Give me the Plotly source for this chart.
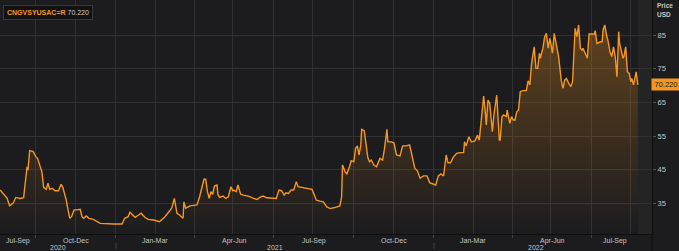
import pandas as pd
import plotly.graph_objects as go

BASE_DATE = "2021-01-01"
DAY_OFFSETS = [
    -133, -127, -125, -122, -118, -115, -110, -106, -103, -102, -101, -99, -95, -92, -90,
    -87, -85, -83, -80, -78, -76, -73, -70, -66, -63, -61, -59, -57, -55, -53,
    -51, -48, -45, -41, -39, -37, -34, -31, -26, -22, -18, -3, 7, 10, 14,
    16, 19, 22, 26, 29, 33, 37, 43, 50, 56, 60, 64, 67, 69, 70,
    73, 77, 78, 80, 85, 93, 96, 98, 101, 103, 105, 107, 109, 111, 113,
    116, 117, 119, 123, 126, 129, 132, 134, 135, 138, 140, 143, 146, 152, 158,
    162, 165, 169, 173, 179, 184, 187, 190, 193, 195, 198, 201, 204, 207, 209,
    213, 219, 225, 227, 230, 234, 238, 242, 246, 251, 257, 259, 260, 263, 265,
    268, 270, 273, 275, 277, 279, 281, 282, 285, 287, 289, 291, 293, 296, 299,
    303, 306, 308, 311, 312, 316, 319, 322, 326, 329, 333, 337, 339, 343, 346,
    349, 353, 357, 360, 364, 367, 370, 373, 376, 379, 381, 384, 387, 391, 395,
    399, 400, 402, 405, 408, 412, 415, 417, 420, 422, 424, 425, 427, 429, 432,
    434, 437, 440, 441, 443, 445, 448, 449, 452, 454, 456, 458, 460, 462, 464,
    467, 471, 473, 475, 477, 480, 482, 484, 486, 487, 490, 492, 494, 496, 498,
    501, 503, 506, 508, 511, 513, 515, 517, 520, 522, 524, 527, 529, 531, 533,
    535, 536, 538, 541, 543, 546, 549, 550, 552, 556, 558, 559, 561, 563, 565,
    567, 569, 571, 573, 575, 577, 578, 582, 583, 585, 587, 589, 591, 592, 594,
    596, 597, 599,
]
PRICES = [
    39.0, 37.0, 36.6, 34.3, 35.1, 36.8, 36.5, 36.7, 44.4, 45.9, 44.9, 50.7, 50.4, 48.9, 48.4,
    45.9, 44.4, 39.8, 39.2, 41.0, 39.2, 39.5, 38.8, 38.8, 40.7, 39.8, 38.0, 36.0, 33.1, 30.6,
    31.1, 33.1, 33.1, 33.3, 31.1, 30.6, 31.3, 30.6, 30.3, 29.6, 29.1, 28.9, 28.9, 30.6, 31.1,
    32.4, 31.6, 30.9, 31.6, 32.1, 30.9, 30.3, 30.1, 29.6, 31.0, 32.3, 33.6, 36.5, 34.0, 32.1,
    31.6, 30.6, 35.5, 33.6, 34.3, 34.6, 37.0, 38.8, 42.2, 42.2, 38.5, 36.5, 38.5, 37.7, 40.2,
    40.5, 37.7, 36.8, 37.2, 36.5, 37.0, 40.0, 38.8, 39.0, 38.5, 40.5, 37.8, 37.5, 37.2, 36.5,
    36.2, 36.8, 37.2, 36.7, 36.5, 36.5, 39.0, 38.8, 37.5, 38.2, 38.0, 39.0, 39.0, 41.5, 40.0,
    39.8, 39.5, 39.2, 38.0, 36.0, 35.7, 35.5, 34.0, 33.5, 33.8, 34.3, 37.0, 46.4, 44.4, 43.8,
    45.9, 47.7, 47.4, 51.4, 52.1, 49.4, 52.4, 57.0, 56.6, 51.9, 48.7, 47.4, 47.9, 46.4, 45.9,
    48.4, 47.9, 50.9, 57.0, 53.3, 53.3, 53.0, 49.4, 49.1, 52.1, 52.1, 52.4, 50.1, 45.4, 44.7,
    42.5, 43.2, 43.2, 41.2, 40.8, 40.5, 43.2, 43.8, 43.2, 49.4, 47.1, 47.1, 48.7, 49.9, 50.1,
    50.1, 53.3, 52.1, 54.8, 53.3, 53.6, 55.3, 53.8, 62.7, 66.9, 61.8, 58.3, 65.7, 64.7, 56.3,
    61.8, 67.2, 53.8, 53.8, 60.8, 61.3, 60.8, 62.7, 58.8, 60.8, 59.8, 59.8, 62.2, 62.7, 68.2,
    68.5, 68.5, 71.4, 70.2, 76.6, 81.5, 75.1, 75.1, 79.6, 78.1, 81.1, 84.5, 85.5, 81.1, 84.0,
    79.6, 85.5, 81.5, 78.6, 71.6, 69.2, 71.6, 72.1, 70.5, 69.7, 71.1, 87.0, 84.5, 88.0, 81.1,
    80.5, 81.1, 80.0, 78.1, 85.3, 85.3, 85.3, 86.3, 82.5, 83.0, 83.0, 86.5, 88.0, 85.0, 83.0,
    80.0, 78.6, 81.5, 78.6, 72.6, 86.0, 82.5, 78.1, 78.6, 81.5, 74.1, 73.6, 71.1, 72.1, 70.2,
    73.6, 74.1, 70.22,
]

TICKER = "CNGVSYUSAC=R"
LAST_LABEL = "70.220"
Y_TICKS = [35, 45, 55, 65, 75, 85]
QUARTER_STARTS = ["2020-10-01", "2021-01-01", "2021-04-01", "2021-07-01", "2021-10-01",
                  "2022-01-01", "2022-04-01", "2022-07-01"]
MID_QUARTERS = ["2020-11-15", "2021-02-15", "2021-05-15", "2021-08-15", "2021-11-15",
                "2022-02-15", "2022-05-15", "2022-08-15"]
QUARTER_LABELS = ["Jul-Sep", "Oct-Dec", "Jan-Mar", "Apr-Jun", "Jul-Sep", "Oct-Dec",
                  "Jan-Mar", "Apr-Jun", "Jul-Sep"]
YEAR_STARTS = ["2021-01-01", "2022-01-01"]
YEAR_LABELS = ["2020", "2021", "2022"]

X_MIN = pd.Timestamp("2020-08-20 22:00")
X_MAX = pd.Timestamp("2022-09-08 05:00")
Y_MIN, Y_MAX = 25.95, 95.4

dates = pd.Timestamp(BASE_DATE) + pd.to_timedelta(DAY_OFFSETS, unit="D")
last_date = dates[-1]

ORANGE = "#f7961f"
BG = "#1c1c1e"
GRID = "#313133"
TXT = "#c4c4c4"
FONT = "Liberation Sans, Arial, sans-serif"

fig = go.Figure()
fig.add_trace(go.Scatter(
    x=dates, y=PRICES, mode="lines",
    line=dict(color=ORANGE, width=1.4),
    fill="tozeroy",
    fillgradient=dict(type="vertical",
                      colorscale=[[0, "rgba(247,150,31,0.0)"], [1, "rgba(247,150,31,0.32)"]],
                      start=Y_MIN, stop=90),
    hoverinfo="skip", showlegend=False,
))

shapes = []
shapes.append(dict(type="rect", xref="x", yref="paper", x0=last_date, x1=X_MAX, y0=0, y1=1,
                   fillcolor="rgba(255,255,255,0.035)", line=dict(width=0), layer="below"))
for ys in YEAR_STARTS:
    shapes.append(dict(type="line", xref="x", yref="paper", x0=ys, x1=ys,
                       y0=-9 / 234, y1=-15 / 234, line=dict(color="#444", width=1)))
shapes.append(dict(type="line", xref="paper", yref="paper", x0=1, x1=1, y0=0, y1=-17 / 234,
                   line=dict(color="#0e0e0e", width=1)))

annotations = []
q_bounds = [X_MIN] + [pd.Timestamp(q) for q in QUARTER_STARTS] + [last_date]
for i, lab in enumerate(QUARTER_LABELS):
    a, b = q_bounds[i], q_bounds[i + 1]
    mid = a + (b - a) / 2
    annotations.append(dict(x=mid, y=0, xref="x", yref="paper", yanchor="top", yshift=-1,
                            text=lab, showarrow=False,
                            font=dict(size=7, color=TXT, family=FONT)))
y_bounds = [X_MIN] + [pd.Timestamp(y) for y in YEAR_STARTS] + [last_date]
for i, lab in enumerate(YEAR_LABELS):
    a, b = y_bounds[i], y_bounds[i + 1]
    mid = a + (b - a) / 2
    annotations.append(dict(x=mid, y=0, xref="x", yref="paper", yanchor="top", yshift=-8,
                            text=lab, showarrow=False,
                            font=dict(size=7, color=TXT, family=FONT)))
annotations.append(dict(
    x=3 / 652, y=1 - 5 / 234, xref="paper", yref="paper", xanchor="left", yanchor="top",
    text=f"<b><span style='color:{ORANGE}'>{TICKER}</span></b> <span style='color:#cfcfcf'>{LAST_LABEL}</span>",
    showarrow=False, bgcolor="#121213", bordercolor="#38383a", borderwidth=1, borderpad=3,
    font=dict(size=7, family=FONT)))
annotations.append(dict(x=1, y=1, xref="paper", yref="paper", xanchor="left", yanchor="top",
                        xshift=3, yshift=0, text="<b>Price</b>", showarrow=False,
                        font=dict(size=6.5, color=TXT, family=FONT)))
annotations.append(dict(x=1, y=1, xref="paper", yref="paper", xanchor="left", yanchor="top",
                        xshift=3, yshift=-9, text="<b>USD</b>", showarrow=False,
                        font=dict(size=6.5, color=TXT, family=FONT)))
annotations.append(dict(x=1, y=PRICES[-1], xref="paper", yref="y", xanchor="left", yanchor="middle",
                        xshift=-1, text=LAST_LABEL, showarrow=False, bgcolor=ORANGE,
                        borderpad=1, width=26,
                        font=dict(size=7.5, color="#1a1a1a", family=FONT)))

fig.update_layout(
    width=679, height=251,
    margin=dict(l=0, r=27, t=0, b=17),
    paper_bgcolor=BG, plot_bgcolor=BG,
    shapes=shapes, annotations=annotations,
    xaxis=dict(type="date", range=[X_MIN, X_MAX], tickvals=QUARTER_STARTS,
               showticklabels=False, ticks="outside", ticklen=3, tickcolor="#444",
               showgrid=True, gridcolor=GRID, gridwidth=1,
               minor=dict(tickvals=MID_QUARTERS, showgrid=True, gridcolor=GRID, ticks=""),
               showline=True, linecolor="#0e0e0e", linewidth=1, zeroline=False, fixedrange=True),
    yaxis=dict(side="right", range=[Y_MIN, Y_MAX], tickvals=Y_TICKS,
               ticks="outside", ticklen=3, tickcolor="#555",
               tickfont=dict(size=7.5, color=TXT, family=FONT),
               showgrid=True, gridcolor=GRID, gridwidth=1, zeroline=False,
               showline=True, linecolor="#0e0e0e", linewidth=1, fixedrange=True),
)

fig.write_html("out.html")
